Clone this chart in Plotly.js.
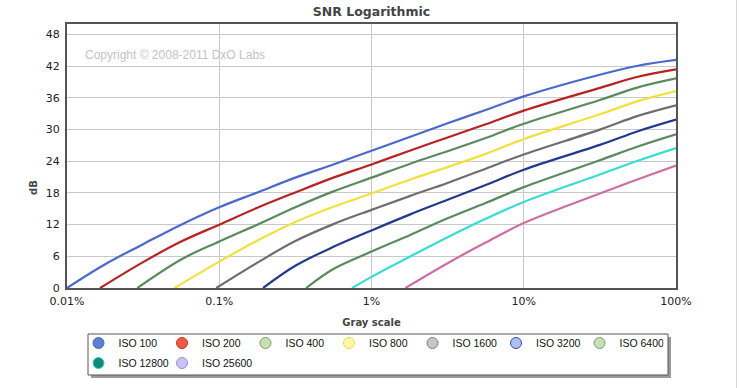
<!DOCTYPE html>
<html>
<head>
<meta charset="utf-8">
<script src="https://cdn.plot.ly/plotly-3.0.1.min.js"></script>
<style>
  html, body { margin: 0; padding: 0; background: #ffffff; }
  #chart { width: 740px; height: 388px; }
</style>
</head>
<body>
<div id="chart"></div>
<script>
// Gray scale (%) and SNR (dB), one pair of arrays per ISO
const iso100_x   = [0.01, 0.0178, 0.0316, 0.0562, 0.1, 0.178, 0.316, 0.562, 1, 1.78, 3.16, 5.62, 10, 31.6, 56.2, 100];
const iso100_y   = [0, 4.5, 8.3, 12.0, 15.3, 18.1, 20.9, 23.4, 26.0, 28.6, 31.2, 33.7, 36.3, 40.4, 42.1, 43.2];
const iso200_x   = [0.0165, 0.0316, 0.0562, 0.1, 0.178, 0.316, 0.562, 1, 1.78, 3.16, 5.62, 10, 31.6, 56.2, 100];
const iso200_y   = [0, 4.9, 8.8, 12.0, 15.2, 18.1, 20.9, 23.4, 26.0, 28.5, 31.0, 33.6, 37.9, 40.0, 41.4];
const iso400_x   = [0.029, 0.0562, 0.1, 0.178, 0.316, 0.562, 1, 1.78, 3.16, 5.62, 10, 31.6, 56.2, 100];
const iso400_y   = [0, 5.4, 8.8, 12.0, 15.3, 18.3, 20.9, 23.5, 25.9, 28.4, 31.1, 35.6, 38.0, 39.7];
const iso800_x   = [0.0508, 0.1, 0.178, 0.316, 0.562, 1, 1.78, 3.16, 5.62, 10, 31.6, 56.2, 100];
const iso800_y   = [0, 5.0, 9.0, 12.5, 15.4, 17.9, 20.5, 22.9, 25.4, 28.2, 32.9, 35.4, 37.3];
const iso1600_x  = [0.0955, 0.178, 0.316, 0.562, 1, 1.78, 3.16, 5.62, 10, 31.6, 56.2, 100];
const iso1600_y  = [0, 4.8, 8.9, 12.1, 14.8, 17.4, 19.9, 22.6, 25.3, 30.0, 32.6, 34.6];
const iso3200_x  = [0.194, 0.316, 0.562, 1, 1.78, 3.16, 5.62, 10, 31.6, 56.2, 100];
const iso3200_y  = [0, 4.2, 7.8, 10.9, 13.9, 16.7, 19.5, 22.4, 27.1, 29.7, 31.9];
const iso6400_x  = [0.372, 0.562, 1, 1.78, 3.16, 5.62, 10, 31.6, 56.2, 100];
const iso6400_y  = [0, 3.6, 6.9, 10.0, 13.2, 16.1, 19.1, 24.2, 26.8, 29.1];
const iso12800_x = [0.747, 1, 1.78, 3.16, 5.62, 10, 31.6, 56.2, 100];
const iso12800_y = [0, 2.1, 5.9, 9.6, 13.1, 16.3, 21.5, 24.1, 26.5];
const iso25600_x = [1.67, 3.16, 5.62, 10, 31.6, 56.2, 100];
const iso25600_y = [0, 4.7, 8.6, 12.3, 17.9, 20.6, 23.2];

const seriesNames = ['ISO 100', 'ISO 200', 'ISO 400', 'ISO 800', 'ISO 1600', 'ISO 3200', 'ISO 6400', 'ISO 12800', 'ISO 25600'];
const xTickVals  = [0.01, 0.1, 1, 10, 100];
const xTickText  = ['0.01%', '0.1%', '1%', '10%', '100%'];
const yTickVals  = [0, 6, 12, 18, 24, 30, 36, 42, 48];

const seriesX = [iso100_x, iso200_x, iso400_x, iso800_x, iso1600_x, iso3200_x, iso6400_x, iso12800_x, iso25600_x];
const seriesY = [iso100_y, iso200_y, iso400_y, iso800_y, iso1600_y, iso3200_y, iso6400_y, iso12800_y, iso25600_y];

// styles
const lineColors   = ['#4b69cd', '#b82222', '#5c8a5f', '#f2e040', '#6e6e6e', '#24398c', '#5c8a5f', '#38dcd2', '#cc6fa5'];
const markerFill   = ['#5b7fd2', '#f05a48', '#c6e0b4', '#fff8a8', '#c8c8c8', '#aebff2', '#c6e0b4', '#12887a', '#c0c6f6'];
const markerBorder = ['#4a66b0', '#c83424', '#7c9c72', '#eadc50', '#7e7e7e', '#3c50a6', '#7c9c72', '#38d0c8', '#c27fb6'];

const traces = [];
seriesNames.forEach((name, i) => {
  traces.push({
    type: 'scatter', mode: 'lines', name: name,
    x: seriesX[i], y: seriesY[i],
    line: { color: lineColors[i], width: 2.2, shape: 'spline', smoothing: 1 },
    showlegend: false, hoverinfo: 'skip'
  });
});
// legend entries (circle symbols, as in the reference legend)
seriesNames.forEach((name, i) => {
  const t = {
    type: 'scatter', mode: 'markers', name: name,
    x: [null], y: [null],
    marker: { symbol: 'circle', size: 11, color: markerFill[i], line: { color: markerBorder[i], width: 1 } },
    showlegend: true,
    legend: i < 7 ? 'legend' : 'legend2'
  };
  if (i === seriesNames.length - 1) t.legendwidth = 60;
  traces.push(t);
});

const L = 67, T = 24, W = 609, H = 264;
const px = v => (v - L) / W;
const py = v => (T + H - v) / H;

const legendCommon = {
  orientation: 'h', xref: 'container', yref: 'container',
  xanchor: 'left', yanchor: 'top',
  bgcolor: 'rgba(0,0,0,0)', borderwidth: 0,
  font: { family: 'Liberation Sans, Arial, sans-serif', size: 10.5, color: '#111' },
  entrywidth: 38.5, entrywidthmode: 'pixels',
  itemclick: false, itemdoubleclick: false, traceorder: 'normal'
};

const layout = {
  width: 740, height: 388,
  margin: { l: L, r: 740 - L - W, t: T, b: 388 - T - H, pad: 0, autoexpand: false },
  paper_bgcolor: '#ffffff', plot_bgcolor: '#ffffff',
  title: {
    text: 'SNR Logarithmic',
    font: { family: 'DejaVu Sans, Verdana, sans-serif', size: 12.5, color: '#444', weight: 700 },
    xref: 'paper', x: 0.5, xanchor: 'center',
    yref: 'container', y: 1 - 12 / 388, yanchor: 'middle'
  },
  xaxis: {
    type: 'log', range: [-2, 2],
    tickmode: 'array', tickvals: xTickVals, ticktext: xTickText,
    showgrid: true, gridcolor: '#c9c9c9', gridwidth: 1,
    showline: true, linecolor: '#555', linewidth: 2, mirror: true,
    ticks: '', zeroline: false, ticklabelstandoff: 2,
    tickfont: { family: 'DejaVu Sans, Verdana, sans-serif', size: 11, color: '#222' },
    title: {
      text: 'Gray scale', standoff: 12,
      font: { family: 'DejaVu Sans, Verdana, sans-serif', size: 10, color: '#444', weight: 700 }
    },
    fixedrange: true
  },
  yaxis: {
    range: [0, 50],
    tickmode: 'array', tickvals: yTickVals,
    showgrid: true, gridcolor: '#c9c9c9', gridwidth: 1,
    showline: true, linecolor: '#555', linewidth: 2, mirror: true,
    ticks: '', zeroline: false, ticklabelstandoff: 3,
    tickfont: { family: 'DejaVu Sans, Verdana, sans-serif', size: 11, color: '#222' },
    fixedrange: true
  },
  annotations: [
    {
      text: 'Copyright © 2008-2011 DxO Labs', showarrow: false,
      xref: 'paper', yref: 'paper', x: px(83), y: py(55), xanchor: 'left', yanchor: 'middle',
      font: { family: 'Liberation Sans, Arial, sans-serif', size: 12, color: '#c3c3c3' }
    },
    {
      text: 'dB', showarrow: false, textangle: -90,
      xref: 'paper', yref: 'paper', x: px(33), y: py(188), xanchor: 'center', yanchor: 'middle',
      font: { family: 'DejaVu Sans, Verdana, sans-serif', size: 10, color: '#444', weight: 700 }
    }
  ],
  shapes: [
    // legend box shadow and box
    { type: 'rect', xref: 'paper', yref: 'paper', x0: px(91), x1: px(671), y0: py(378), y1: py(337),
      line: { width: 0 }, fillcolor: '#9a9a9a', layer: 'above' },
    { type: 'rect', xref: 'paper', yref: 'paper', x0: px(88), x1: px(668), y0: py(375), y1: py(334),
      line: { color: '#555', width: 1 }, fillcolor: '#ffffff', layer: 'above' },
    // page edge line at right
    { type: 'line', xref: 'paper', yref: 'paper', x0: px(736.5), x1: px(736.5), y0: py(388), y1: py(0),
      line: { color: '#d6d6d6', width: 1 } }
  ],
  legend: Object.assign({}, legendCommon, { x: 78.5 / 740, y: 1 - 328.5 / 388 }),
  legend2: Object.assign({}, legendCommon, { x: 78.5 / 740, y: 1 - 348.5 / 388 }),
  hovermode: false
};

Plotly.newPlot('chart', traces, layout, { displayModeBar: false, staticPlot: true });
</script>
</body>
</html>
